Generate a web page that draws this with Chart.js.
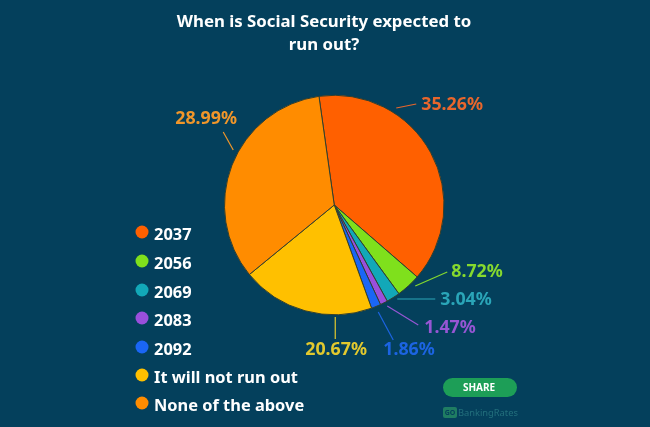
<!DOCTYPE html>
<html>
<head>
<meta charset="utf-8">
<title>When is Social Security expected to run out?</title>
<script src="https://cdn.jsdelivr.net/npm/chart.js@4"></script>
<style>
    html, body { margin: 0; padding: 0; background: #04405c; }
    #wrap { position: relative; width: 650px; height: 427px; }
</style>
</head>
<body>
<div id="wrap"><canvas id="pie" width="650" height="427"></canvas></div>
<script>
const titleLines = ['When is Social Security expected to', 'run out?'];
const categories = ['2037', '2056', '2069', '2083', '2092', 'It will not run out', 'None of the above'];
// printed percentages
const percentLabels = ['35.26%', '8.72%', '3.04%', '1.47%', '1.86%', '20.67%', '28.99%'];
// the wedges in the picture are not drawn to the printed numbers, these are measured from the wedge angles
const sliceShares = [38.6, 3.6, 2.0, 1.1, 1.4, 19.6, 33.7];
const sliceColors = ['#ff6000', '#7fe01c', '#12a8b8', '#9a4fdc', '#1a66f5', '#ffc000', '#ff8c00'];
const labelColors = ['#e8662c', '#86d92e', '#2aa5b8', '#9656d4', '#1c64e2', '#e2c92e', '#f0962a'];

// callouts, all offsets in px from the pie centre: leader start, leader end, text anchor
const callouts = [
    { from: [62, -97], to: [82, -101], text: [87, -100], align: 'left' },
    { from: [81, 81], to: [113, 67], text: [117, 67], align: 'left' },
    { from: [63, 94], to: [101, 94], text: [106, 95], align: 'left' },
    { from: [53, 101], to: [84, 120], text: [90, 123], align: 'left' },
    { from: [44, 107], to: [59, 135], text: [49, 145], align: 'left' },
    { from: [1, 112], to: [1, 134], text: [-29, 145], align: 'left' },
    { from: [-111, -73], to: [-101, -55], text: [-159, -86], align: 'left' }
];

const labelFont = 'bold 17.8px "Noto Sans"';
const legendFont = 'bold 16.4px "Noto Sans"';
const legendRows = [234, 263, 292, 320, 349, 377, 405];

const overlayPlugin = {
    id: 'overlay',
    afterDraw(chart) {
        const ctx = chart.ctx;
        ctx.save();
        ctx.textBaseline = 'middle';

        // judul
        ctx.fillStyle = '#ffffff';
        ctx.font = 'bold 16.8px "Noto Sans"';
        ctx.textAlign = 'center';
        titleLines.forEach((line, i) => ctx.fillText(line, 324, 22 + i * 23));

        // callouts
        const arcs = chart.getDatasetMeta(0).data;
        ctx.font = labelFont;
        callouts.forEach((c, i) => {
            const cx = arcs[i].x, cy = arcs[i].y;
            ctx.strokeStyle = labelColors[i];
            ctx.lineWidth = 1.2;
            ctx.beginPath();
            ctx.moveTo(cx + c.from[0], cy + c.from[1]);
            ctx.lineTo(cx + c.to[0], cy + c.to[1]);
            ctx.stroke();
            ctx.fillStyle = labelColors[i];
            ctx.textAlign = c.align;
            ctx.fillText(percentLabels[i], cx + c.text[0], cy + c.text[1]);
        });

        // legend
        ctx.font = legendFont;
        ctx.textAlign = 'left';
        categories.forEach((name, i) => {
            ctx.fillStyle = sliceColors[i];
            ctx.beginPath();
            ctx.arc(142, legendRows[i] - 2, 6.5, 0, Math.PI * 2);
            ctx.fill();
            ctx.fillStyle = '#ffffff';
            ctx.fillText(name, 154, legendRows[i] + 1);
        });

        // tombol share
        ctx.fillStyle = '#1d9e57';
        ctx.beginPath();
        ctx.roundRect(443, 378, 74, 19, 9.5);
        ctx.fill();
        ctx.fillStyle = '#ffffff';
        ctx.font = 'bold 10px "Noto Sans"';
        ctx.textAlign = 'center';
        ctx.fillText('SHARE', 479, 388);

        // logo
        ctx.fillStyle = '#1f7d62';
        ctx.beginPath();
        ctx.roundRect(443, 407, 14, 11, 2);
        ctx.fill();
        ctx.fillStyle = '#04405c';
        ctx.font = 'bold 7px "Noto Sans"';
        ctx.fillText('GO', 450, 413);
        ctx.fillStyle = '#236f7c';
        ctx.font = '9.3px "Noto Sans"';
        ctx.textAlign = 'left';
        ctx.fillText('BankingRates', 458, 413);
        ctx.restore();
    }
};

new Chart(document.getElementById('pie').getContext('2d'), {
    type: 'pie',
    data: {
        labels: categories,
        datasets: [{
            data: sliceShares,
            backgroundColor: sliceColors,
            borderColor: '#33402f',
            borderWidth: 1,
            hoverOffset: 0
        }]
    },
    options: {
        responsive: false,
        animation: false,
        rotation: -8,
        layout: { padding: { left: 224, right: 205.5, top: 94.5, bottom: 111.5 } },
        plugins: { legend: { display: false }, tooltip: { enabled: false } }
    },
    plugins: [overlayPlugin]
});
</script>
</body>
</html>
